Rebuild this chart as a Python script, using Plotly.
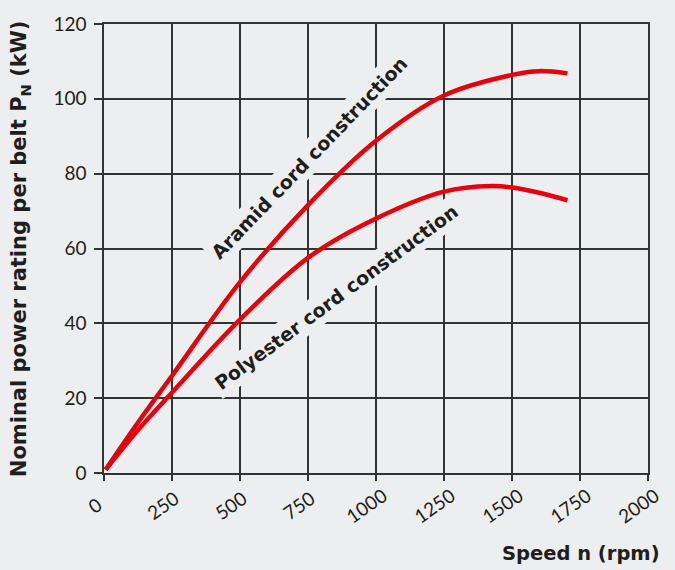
import plotly.graph_objects as go

# Data
speed_aramid = [6, 125, 250, 500, 750, 1000, 1250, 1500, 1600, 1704]
power_aramid = [0.9, 13.5, 26.0, 51.0, 71.6, 88.8, 100.9, 106.4, 107.4, 106.8]

speed_polyester = [6, 125, 250, 500, 750, 1000, 1250, 1425, 1500, 1600, 1704]
power_polyester = [0.9, 11.5, 21.5, 41.0, 57.5, 68.0, 75.2, 76.7, 76.3, 74.9, 72.9]

x_ticks = [0, 250, 500, 750, 1000, 1250, 1500, 1750, 2000]
y_ticks = [0, 20, 40, 60, 80, 100, 120]

BG = "#eceef0"
GRID = "#333333"
RED = "#e6000b"
TXT = "#1e1e1e"
BOLD_FONT = "DejaVu Sans"

fig = go.Figure()
fig.add_trace(go.Scatter(x=speed_aramid, y=power_aramid, mode="lines",
                         line=dict(color=RED, width=4.5, shape="spline", smoothing=1.0),
                         hoverinfo="skip", showlegend=False))
fig.add_trace(go.Scatter(x=speed_polyester, y=power_polyester, mode="lines",
                         line=dict(color=RED, width=4.5, shape="spline", smoothing=1.0),
                         hoverinfo="skip", showlegend=False))

annotations = []
for t in x_ticks:
    annotations.append(dict(x=t, y=0, xref="x", yref="y", text=str(t), showarrow=False,
                            textangle=-35, xshift=-10, yshift=-32,
                            font=dict(family="Lato", size=19, color=TXT)))

# curve labels
annotations.append(dict(x=752, y=84.3, xref="x", yref="y", text="Aramid cord construction",
                        showarrow=False, textangle=-46,
                        font=dict(family=BOLD_FONT, size=19, color=TXT, weight="bold"),
                        bgcolor=BG, borderpad=3))
annotations.append(dict(x=854, y=47.0, xref="x", yref="y", text="Polyester cord construction",
                        showarrow=False, textangle=-36.5,
                        font=dict(family=BOLD_FONT, size=19, color=TXT, weight="bold"),
                        bgcolor=BG, borderpad=3))

# axis titles
annotations.append(dict(x=-0.155, y=0.5, xref="paper", yref="paper",
                        text="Nominal power rating per belt P<sub>N</sub> (kW)",
                        showarrow=False, textangle=-90, xanchor="center", yanchor="middle",
                        font=dict(family=BOLD_FONT, size=21, color=TXT, weight="bold")))
annotations.append(dict(x=1.025, y=-0.18, xref="paper", yref="paper",
                        text="Speed n (rpm)", showarrow=False, xanchor="right", yanchor="middle",
                        font=dict(family=BOLD_FONT, size=19.5, color=TXT, weight="bold")))

fig.update_layout(
    width=675, height=570,
    margin=dict(l=104, r=27, t=18, b=97),
    paper_bgcolor=BG, plot_bgcolor=BG,
    annotations=annotations,
    xaxis=dict(range=[0, 2000], tickvals=x_ticks, showticklabels=False,
               ticks="outside", ticklen=6, tickwidth=1.5, tickcolor=GRID,
               showgrid=True, gridcolor=GRID, gridwidth=1.5,
               showline=True, linecolor=GRID, linewidth=1.5, mirror=True,
               zeroline=False, fixedrange=True),
    yaxis=dict(range=[0, 120], tickvals=y_ticks, ticks="outside", ticklen=8,
               tickwidth=1.5, tickcolor=GRID,
               tickfont=dict(family="Lato", size=19, color=TXT), ticklabelstandoff=4,
               showgrid=True, gridcolor=GRID, gridwidth=1.5,
               showline=True, linecolor=GRID, linewidth=1.5, mirror=True,
               zeroline=False, fixedrange=True),
)

fig.write_html("out.html", config={"displayModeBar": False},
               post_script="document.body.style.margin='0';document.body.style.background='%s';" % BG)
